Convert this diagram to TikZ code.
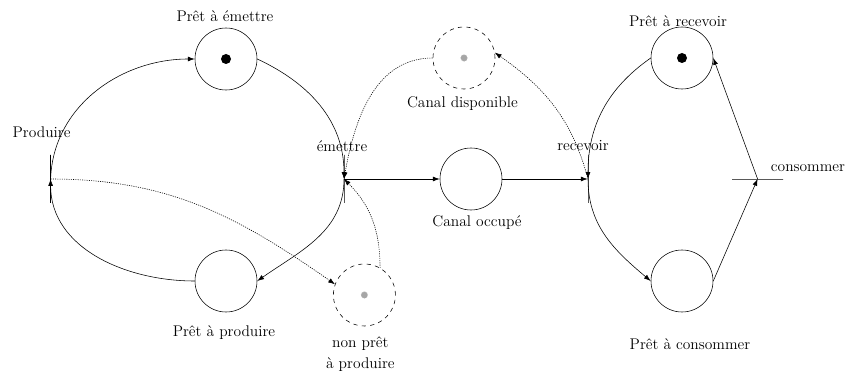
\documentclass[tikz,border=0pt]{standalone}
\usepackage{tikz}
\usetikzlibrary{positioning,calc}
\usetikzlibrary{arrows.meta}

\begin{document}
\begin{tikzpicture}[
  lieu/.style = {draw, circle, minimum size=1.55cm, inner sep=0pt},
  lieuvide/.style = {lieu, dashed},
  barrev/.style = {draw, minimum height=1.2cm, minimum width=0pt, inner sep=0pt},
  barreh/.style = {draw, minimum width=1.275cm, minimum height=0pt, inner sep=0pt},
  jeton/.style = {fill, circle, inner sep=0pt, minimum size=0.25cm},
  jetongris/.style = {fill=gray!70, draw=gray!40, densely dotted, circle, inner sep=0pt, minimum size=0.17cm},
  texte/.style = {font=\fontsize{11}{15}\selectfont, align=center},
  fleche/.style = {-{Latex[length=1.7mm, width=1.2mm]}},
  pointille/.style = {fleche, dash pattern=on 0.8pt off 0.8pt}
]
  \useasboundingbox (0,0) rectangle (21.15,9.35);

  % Places
  \node[lieu] (pemettre) at (5.65,7.875) {};
  \node[jeton] (jetonemettre) at (pemettre) {};
  \node[lieu] (pproduire) at (5.65,2.325) {};
  \node[lieuvide] (nonpret) at (9.11,1.975) {};
  \node[jetongris] (jetonnonpret) at (nonpret) {};
  \node[lieuvide] (canaldisp) at (11.6,7.9) {};
  \node[jetongris] (jetoncanal) at (canaldisp) {};
  \node[lieu] (canaloccupe) at (11.775,4.875) {};
  \node[lieu] (precevoir) at (17.05,7.9) {};
  \node[jeton] (jetonrecevoir) at (precevoir) {};
  \node[lieu] (pconsommer) at (17.05,2.325) {};

  % Transitions
  \node[barrev] (produire) at (1.265,4.875) {};
  \node[barrev] (emettre) at (8.6,4.875) {};
  \node[barrev] (recevoir) at (14.7,4.875) {};
  \node[barreh] (consommer) at (18.94,4.875) {};

  % Labels
  \node[texte] (lpemettre) at (5.625,8.95) {Prêt à émettre};
  \node[texte] (lproduire) at (1.04,6.05) {Produire};
  \node[texte] (lemettre) at (8.55,5.7) {émettre};
  \node[texte] (lcanaldisp) at (11.56,6.75) {Canal disponible};
  \node[texte] (lcanaloccupe) at (11.925,3.78) {Canal occupé};
  \node[texte] (lrecevoir) at (14.575,5.7) {recevoir};
  \node[texte] (lprecevoir) at (16.95,8.825) {Prêt à recevoir};
  \node[texte] (lconsommer) at (20.2,5.15) {consommer};
  \node[texte] (lpproduire) at (5.6,1.025) {Prêt à produire};
  \node[texte] (lnonpret) at (9.01,0.5) {non prêt\\à produire};
  \node[texte] (lpconsommer) at (17.25,0.75) {Prêt à consommer};

  % Arcs de l'emetteur
  \draw[fleche] (produire.center) to[out=88, in=180] (pemettre);
  \draw[fleche] (pemettre.east) to[out=-25, in=90] (emettre.center);
  \draw[fleche] (emettre.center) to[out=-90, in=35] (pproduire.east);
  \draw[fleche] (pproduire.west) to[out=180, in=-90] (produire.center);
  \draw[pointille] (produire.center) to[out=0, in=145] (nonpret.160);
  \draw[pointille] (nonpret.60) to[out=90, in=-45] (emettre.center);

  % Arcs du canal
  \draw[pointille] (canaldisp.west) to[out=180, in=80] (emettre.center);
  \draw[pointille] (recevoir.center) to[out=105, in=-35] (canaldisp.10);
  \draw[fleche] (emettre.center) -- (canaloccupe);
  \draw[fleche] (canaloccupe) -- (recevoir);

  % Arcs du recepteur
  \draw[fleche] (precevoir.west) to[out=215, in=90] (recevoir.center);
  \draw[fleche] (recevoir.center) to[out=-90, in=140] (pconsommer.west);
  \draw[fleche] (pconsommer.east) -- (consommer.center);
  \draw[fleche] (consommer.center) -- (precevoir.east);
\end{tikzpicture}
\end{document}
